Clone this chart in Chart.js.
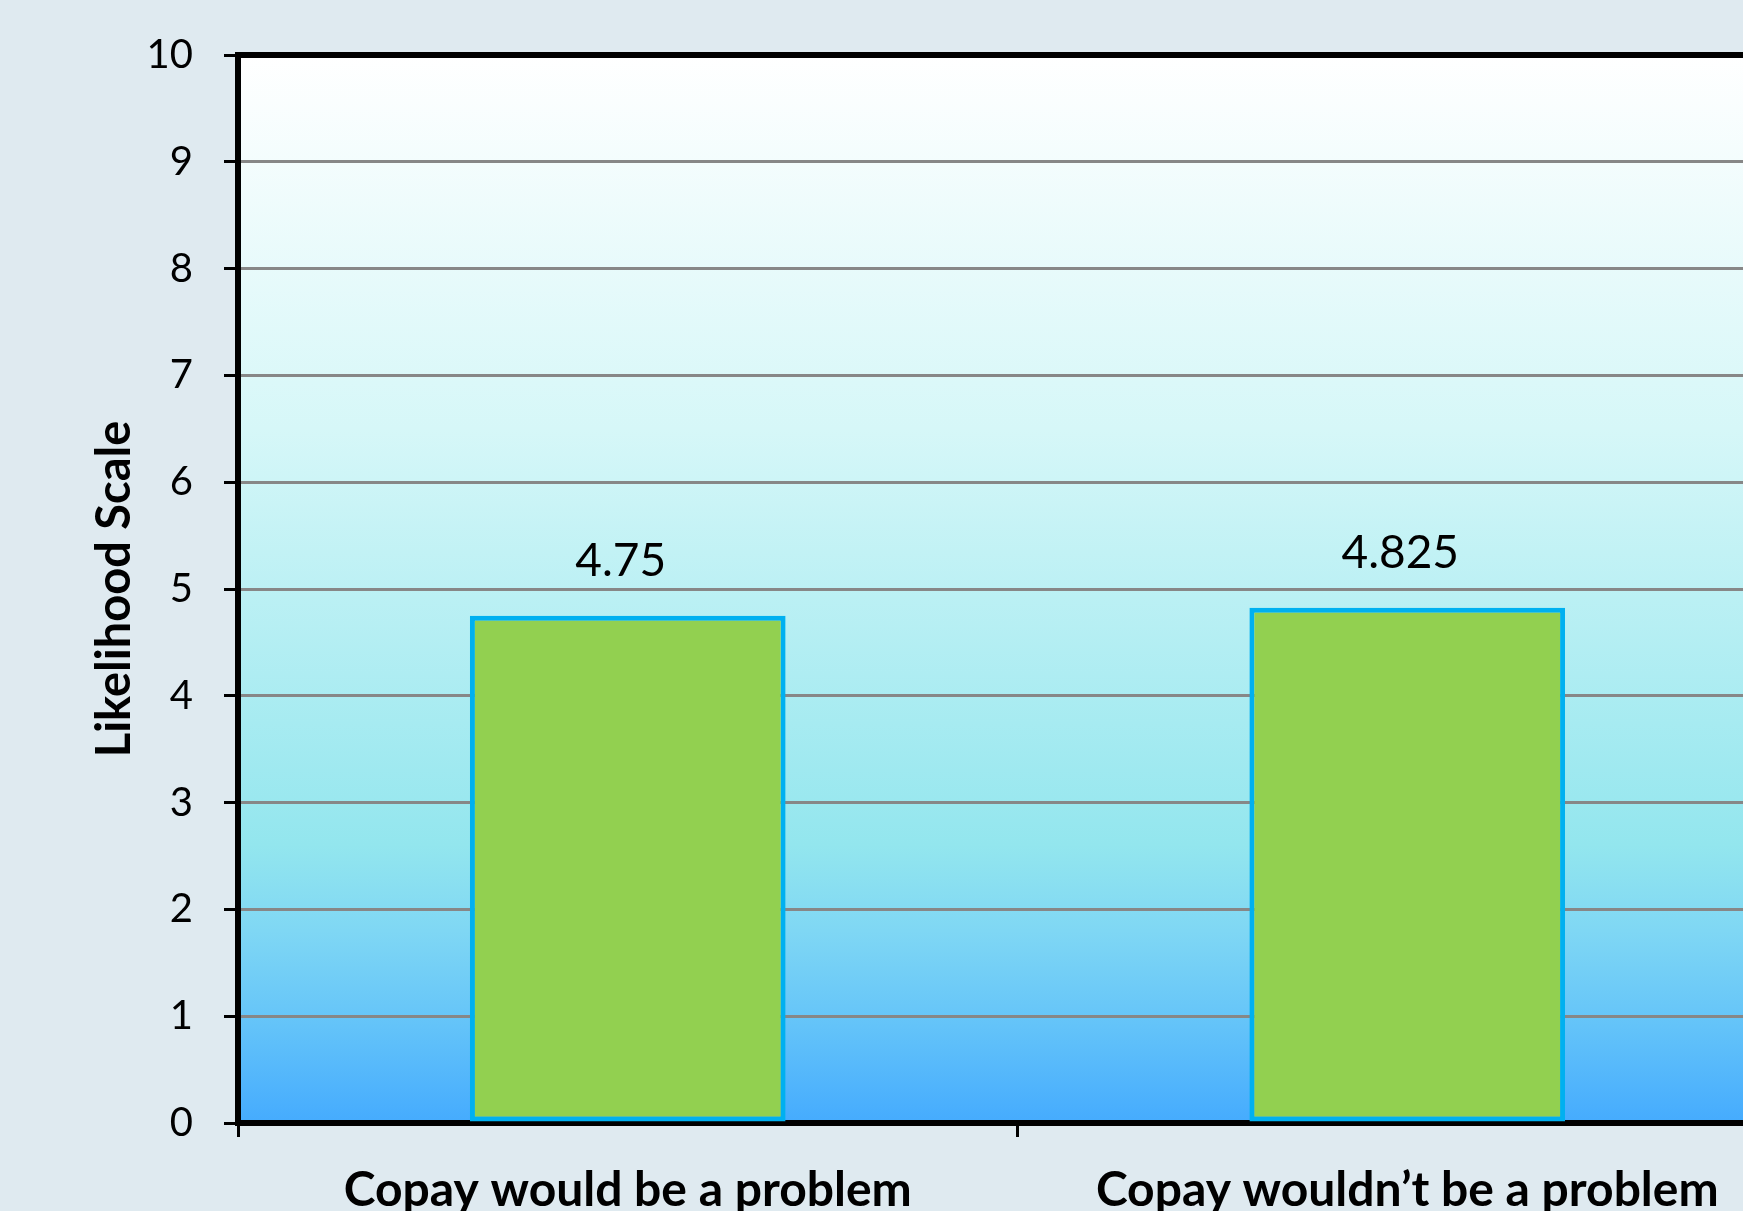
<!DOCTYPE html>
<html>
<head>
<meta charset="utf-8">
<script src="https://cdn.jsdelivr.net/npm/chart.js@4/dist/chart.umd.min.js"></script>
<style>
  html, body { margin: 0; padding: 0; overflow: hidden; background: #dfeaf0; }
  #wrap { position: relative; width: 1743px; height: 1211px; overflow: hidden; }
  canvas { display: block; }
</style>
</head>
<body>
<div id="wrap"><canvas id="chart" width="1800" height="1250" style="width:1800px;height:1250px"></canvas></div>
<script>
// Mean likelihood score for each copay group
const categories = ['Copay would be a problem', 'Copay wouldn\u2019t be a problem'];
const likelihood = [4.75, 4.825];
const yTicks = [0, 1, 2, 3, 4, 5, 6, 7, 8, 9, 10];
const yTitle = 'Likelihood Scale';

const FONT = 'Lato, "Open Sans", sans-serif';

// Plot-area fill: pale white at the top fading to sky blue at the base
const plotBackground = {
  id: 'plotBackground',
  beforeDraw(chart) {
    const { ctx, chartArea: a } = chart;
    const g = ctx.createLinearGradient(0, a.top, 0, a.bottom);
    g.addColorStop(0, '#ffffff');
    g.addColorStop(0.35, '#d6f7f8');
    g.addColorStop(0.74, '#93e6ee');
    g.addColorStop(0.82, '#7fd7f4');
    g.addColorStop(0.91, '#63c3f9');
    g.addColorStop(1, '#45abfe');
    ctx.save();
    ctx.fillStyle = g;
    ctx.fillRect(a.left, a.top, a.right - a.left, a.bottom - a.top);
    ctx.restore();
  }
};

// Heavy black frame around the plot area, drawn under the bars
const plotFrame = {
  id: 'plotFrame',
  beforeDatasetsDraw(chart) {
    const { ctx, chartArea: a } = chart;
    ctx.save();
    ctx.strokeStyle = '#000000';
    ctx.lineWidth = 6;
    ctx.lineCap = 'square';
    ctx.beginPath();
    ctx.moveTo(a.left, a.bottom);
    ctx.lineTo(a.left, a.top);
    ctx.lineTo(a.right, a.top);
    ctx.lineTo(a.right, a.bottom);
    ctx.closePath();
    ctx.stroke();
    ctx.restore();
  }
};

// Value printed above each bar
const valueLabels = {
  id: 'valueLabels',
  afterDatasetsDraw(chart) {
    const { ctx } = chart;
    const meta = chart.getDatasetMeta(0);
    ctx.save();
    ctx.font = '46px ' + FONT;
    ctx.fillStyle = '#000000';
    ctx.textAlign = 'center';
    ctx.textBaseline = 'alphabetic';
    meta.data.forEach((bar, i) => {
      ctx.fillText(String(likelihood[i]), bar.x - 7, bar.y - 40);
    });
    ctx.restore();
  }
};

new Chart(document.getElementById('chart'), {
  type: 'bar',
  data: {
    labels: categories,
    datasets: [{
      data: likelihood,
      backgroundColor: '#92d050',
      borderColor: '#00b0f0',
      borderWidth: 5,
      borderSkipped: false,
      barPercentage: 0.405,
      categoryPercentage: 1.0
    }]
  },
  options: {
    responsive: false,
    animation: false,
    devicePixelRatio: 1,
    layout: { padding: { top: 53, right: 3, bottom: 0, left: 0 } },
    plugins: {
      legend: { display: false },
      tooltip: { enabled: false }
    },
    scales: {
      x: {
        grid: {
          display: true,
          offset: true,
          drawOnChartArea: false,
          drawTicks: true,
          tickLength: 14,
          tickColor: '#000000',
          tickWidth: 3
        },
        border: { display: false },
        ticks: {
          color: '#000000',
          padding: 25,
          maxRotation: 0,
          autoSkip: false,
          font: { family: FONT, size: 48, weight: 'bold' }
        },
        afterFit(scale) { scale.height = 1250 - 1123; }
      },
      y: {
        min: 0,
        max: 10,
        afterBuildTicks(scale) { scale.ticks = yTicks.map(v => ({ value: v })); },
        grid: {
          color: '#878787',
          lineWidth: 3,
          drawTicks: true,
          tickLength: 14,
          tickColor: '#000000',
          tickWidth: 3
        },
        border: { display: false },
        ticks: {
          color: '#000000',
          padding: 31,
          font: { family: FONT, size: 40 }
        },
        title: {
          display: true,
          text: yTitle,
          color: '#000000',
          padding: { top: 87, bottom: 0 },
          font: { family: FONT, size: 47, weight: 'bold' }
        },
        afterFit(scale) { scale.width = 238; }
      }
    }
  },
  plugins: [plotBackground, plotFrame, valueLabels]
});
</script>
</body>
</html>
